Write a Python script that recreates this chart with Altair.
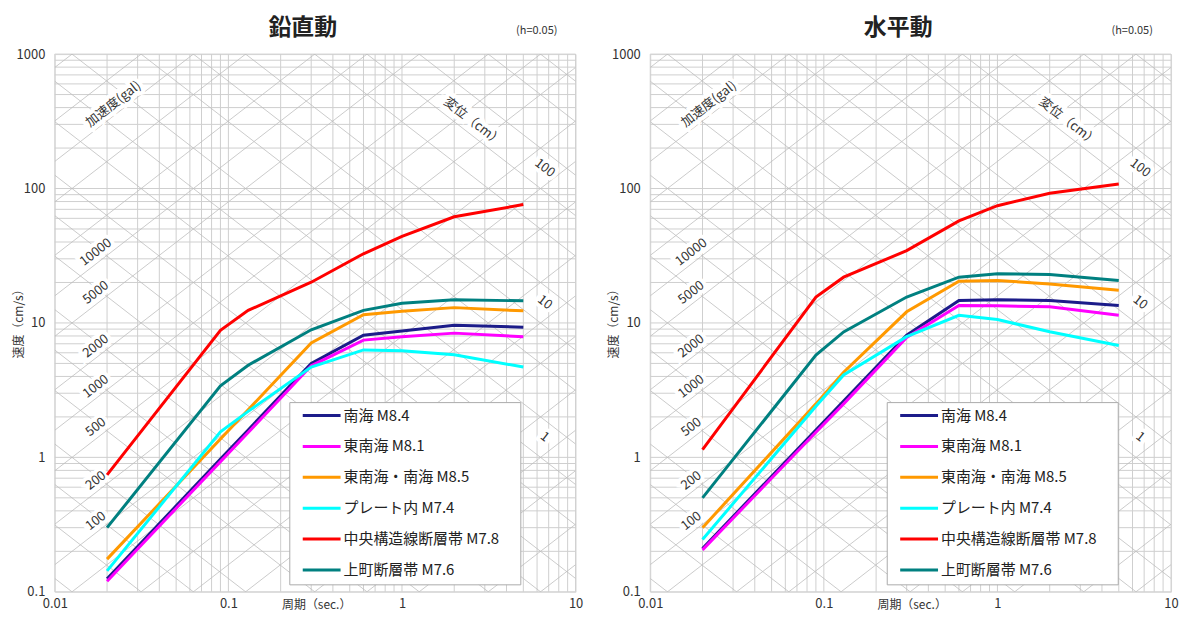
import altair as alt
import pandas as pd
import numpy as np

FONT = "Noto Sans CJK JP"
GRID = "#cfcfcf"
DIAG = "#bdbdbd"
W, H = 523, 540

periods = [0.02, 0.09, 0.13, 0.3, 0.6, 1.0, 2.0, 5.0]
names = ["南海 M8.4", "東南海 M8.1", "東南海・南海 M8.5", "プレート内 M7.4",
         "中央構造線断層帯 M7.8", "上町断層帯 M7.6"]
colors = ["#1c1c8a", "#ff00ff", "#ff9900", "#00ffff", "#ff0000", "#008080"]

# 鉛直動 (vertical), velocity response cm/s
v_nankai   = [0.125, 0.97, 1.6, 5.0, 8.1, 8.7, 9.6, 9.3]
v_tonankai = [0.12, 0.93, 1.53, 4.8, 7.45, 7.9, 8.4, 7.9]
v_both     = [0.175, 1.37, 2.26, 7.1, 11.5, 12.2, 13.0, 12.3]
v_plate    = [0.143, 1.55, 2.2, 4.7, 6.3, 6.2, 5.8, 4.7]
v_mtl      = [0.74, 8.8, 12.4, 20.1, 32.7, 44.0, 61.6, 76.0]
v_uemachi  = [0.30, 3.4, 4.85, 8.9, 12.4, 14.0, 14.9, 14.6]

# 水平動 (horizontal)
h_nankai   = [0.21, 1.6, 2.62, 8.1, 14.7, 14.9, 14.7, 13.5]
h_tonankai = [0.205, 1.54, 2.5, 7.8, 13.5, 13.4, 13.2, 11.4]
h_both     = [0.30, 2.5, 4.3, 12.1, 20.4, 20.7, 19.5, 17.5]
h_plate    = [0.245, 2.4, 4.1, 7.9, 11.4, 10.6, 8.6, 6.8]
h_mtl      = [1.14, 15.6, 21.9, 34.5, 57.5, 74.5, 92.3, 108.0]
h_uemachi  = [0.50, 5.76, 8.58, 15.6, 21.9, 23.2, 22.9, 20.7]

# grid values
x_grid = [k * 10.0 ** n for n in (-2, -1, 0) for k in range(1, 10)] + [10.0]
y_grid = [k * 10.0 ** n for n in (-1, 0, 1, 2) for k in range(1, 10)] + [1000.0]
x_ticks = [0.01, 0.1, 1, 10]
y_ticks = [0.1, 1, 10, 100, 1000]

# tripartite lines
accel_lines = [k * 10.0 ** n for n in range(-1, 6) for k in (1, 2, 5)]   # gal
disp_lines = [k * 10.0 ** n for n in range(-4, 4) for k in (1, 2, 5)]    # cm
accel_labels = [100, 200, 500, 1000, 2000, 5000, 10000]
disp_labels = [1, 10, 100]

TWO_PI = 2 * np.pi


def diag_table():
    rows = []
    for i, a in enumerate(accel_lines):
        for t in (0.01, 10.0):
            rows.append({"id": f"a{i}", "T": t, "Sv": a * t / TWO_PI})
    for i, d in enumerate(disp_lines):
        for t in (0.01, 10.0):
            rows.append({"id": f"d{i}", "T": t, "Sv": TWO_PI * d / t})
    return pd.DataFrame(rows)


def label_tables():
    ta = 0.0186
    acc = [{"T": ta, "Sv": a * ta / TWO_PI, "txt": str(a)} for a in accel_labels]
    acc.append({"T": 0.0235, "Sv": 1e5 * 0.0235 / TWO_PI, "txt": "加速度(gal)"})
    td = 5.7
    dis = [{"T": td, "Sv": TWO_PI * d / td, "txt": str(d)} for d in disp_labels]
    dis.append({"T": 2.2, "Sv": TWO_PI * 85 / 2.2, "txt": "変位（cm）"})
    return pd.DataFrame(acc), pd.DataFrame(dis)


legend_df = pd.DataFrame({"name": names, "color": colors, "row": list(range(len(names)))})

xs = alt.Scale(type="log", domain=[0.01, 10], nice=False)
ys = alt.Scale(type="log", domain=[0.1, 1000], nice=False)
xaxis = alt.Axis(values=x_ticks, format="~g", grid=False, ticks=False, domain=False,
                 labelPadding=6, labelFontSize=13, labelColor="#333", labelFlush=False,
                 title=None, labelFont=FONT)
yaxis = alt.Axis(values=y_ticks, format="~g", grid=False, ticks=False, domain=False,
                 labelPadding=10, labelFontSize=13, labelColor="#333",
                 title=None, labelFont=FONT)


def X(f):
    return alt.X(f, type="quantitative", scale=xs, axis=xaxis)


def Y(f):
    return alt.Y(f, type="quantitative", scale=ys, axis=yaxis)


def panel(title, series, lx):
    rows = []
    for nm, vals in zip(names, series):
        for t, v in zip(periods, vals):
            rows.append({"series": nm, "T": t, "Sv": v})
    df = pd.DataFrame(rows)

    vgrid = alt.Chart(pd.DataFrame({"T": x_grid})).mark_rule(
        color=GRID, strokeWidth=1).encode(x=X("T"), y=alt.value(0), y2=alt.value(H))
    hgrid = alt.Chart(pd.DataFrame({"Sv": y_grid})).mark_rule(
        color=GRID, strokeWidth=1).encode(y=Y("Sv"), x=alt.value(0), x2=alt.value(W))
    diag = alt.Chart(diag_table()).mark_line(
        color=DIAG, strokeWidth=0.8, clip=True).encode(x=X("T"), y=Y("Sv"), detail="id:N")

    acc_df, dis_df = label_tables()
    common = dict(font=FONT, fontSize=13, color="#333")
    acc_halo = alt.Chart(acc_df).mark_text(angle=322, stroke="white", strokeWidth=8,
                                           dy=-9.5, **common).encode(x=X("T"), y=Y("Sv"), text="txt:N")
    acc_txt = alt.Chart(acc_df).mark_text(angle=322, dy=-9.5, **common).encode(
        x=X("T"), y=Y("Sv"), text="txt:N")
    dis_halo = alt.Chart(dis_df).mark_text(angle=38, stroke="white", strokeWidth=8,
                                           dy=-19, **common).encode(x=X("T"), y=Y("Sv"), text="txt:N")
    dis_txt = alt.Chart(dis_df).mark_text(angle=38, dy=-19, **common).encode(
        x=X("T"), y=Y("Sv"), text="txt:N")

    lines = alt.Chart(df).mark_line(strokeWidth=3).encode(
        x=X("T"), y=Y("Sv"),
        color=alt.Color("series:N", sort=names,
                        scale=alt.Scale(domain=names, range=colors), legend=None))

    # legend drawn inside the plot (box, stroke symbols, labels)
    top = 350
    box = alt.Chart(pd.DataFrame({"a": [0]})).mark_rect(
        fill="white", stroke="#aaaaaa", strokeWidth=1).encode(
        x=alt.value(lx), x2=alt.value(lx + 232), y=alt.value(top), y2=alt.value(top + 183))
    lg_base = alt.Chart(legend_df).transform_calculate(py=f"{top + 13} + 31 * datum.row")
    lg_sym = lg_base.mark_rule(strokeWidth=3).encode(
        x=alt.value(lx + 13), x2=alt.value(lx + 51),
        y=alt.Y("py:Q", scale=None), color=alt.Color("color:N", scale=None, legend=None))
    lg_txt = lg_base.mark_text(align="left", baseline="middle", font=FONT, fontSize=15,
                               color="#222").encode(
        x=alt.value(lx + 54), y=alt.Y("py:Q", scale=None), text="name:N")

    one = pd.DataFrame({"a": [0]})
    t_txt = alt.Chart(one).mark_text(text=title, font=FONT, fontSize=23, fontWeight="bold",
                                     color="#222").encode(x=alt.value(249), y=alt.value(-26))
    h_txt = alt.Chart(one).mark_text(text="(h=0.05)", font=FONT, fontSize=11, color="#333").encode(
        x=alt.value(484), y=alt.value(-23))
    ytitle = alt.Chart(one).mark_text(text="速度（cm/s）", font=FONT, fontSize=12, angle=270,
                                      color="#333").encode(x=alt.value(-36), y=alt.value(268))
    xtitle = alt.Chart(one).mark_text(text="周期（sec.）", font=FONT, fontSize=12,
                                      color="#333").encode(x=alt.value(263), y=alt.value(H + 13))

    return alt.layer(vgrid, hgrid, diag, acc_halo, acc_txt, dis_halo, dis_txt, lines,
                     box, lg_sym, lg_txt, t_txt, h_txt, ytitle, xtitle).properties(width=W, height=H)


left = panel("鉛直動", [v_nankai, v_tonankai, v_both, v_plate, v_mtl, v_uemachi], 236)
right = panel("水平動", [h_nankai, h_tonankai, h_both, h_plate, h_mtl, h_uemachi], 238)

chart = alt.hconcat(left, right, spacing=24,
                    padding={"left": 4, "top": 7, "right": 0, "bottom": 0}).configure_view(
    stroke=None).configure(font=FONT)

chart.save("out.html", embed_options={"renderer": "svg", "actions": False})
